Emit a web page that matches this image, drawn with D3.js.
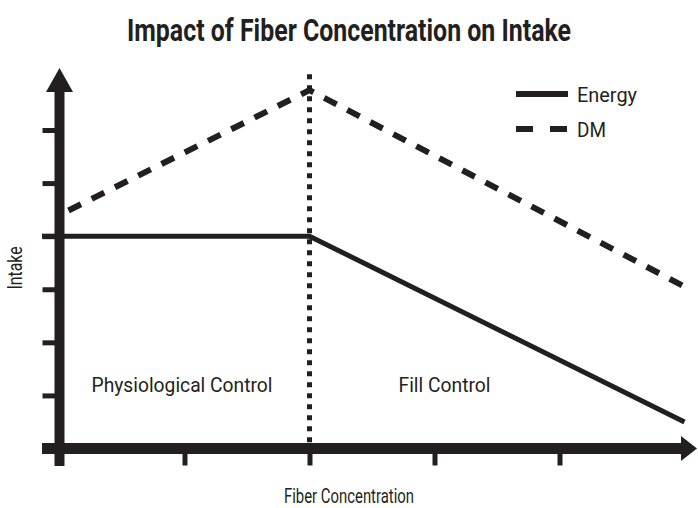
<!DOCTYPE html>
<html>
<head>
<meta charset="utf-8">
<script src="https://cdn.jsdelivr.net/npm/d3@7"></script>
<style>
  body { margin: 0; background: #fff; }
  svg { display: block; }
  text { font-family: Roboto, "Liberation Sans", sans-serif; fill: #231f20; }
</style>
</head>
<body>
<svg width="698" height="508"></svg>
<script>
const W = 698, H = 508;
const INK = '#231f20';

// data (arbitrary units)
const fiberX = [0, 2, 5];
const energy = [4, 4, 0.5];
const dm = [4.4, 6.75, 3.05];
const xTicks = [0, 1, 2, 3, 4];
const yTicks = [1, 2, 3, 4, 5, 6];
const dividerAt = 2, dividerTop = 7.05;
const regions = [{x: 0.98, label: 'Physiological Control'}, {x: 3.08, label: 'Fill Control'}];
const seriesNames = ['Energy', 'DM'];

const svg = d3.select('svg');

const x = d3.scaleLinear().domain([0, 5]).range([59.5, 684.5]);
const y = d3.scaleLinear().domain([0, 6]).range([448.5, 130]);

// condensed look: squeeze Roboto to the widths measured on the picture
function label(sel, size, width) {
    return sel.style('font-size', size + 'px')
        .attr('textLength', width)
        .attr('lengthAdjust', 'spacingAndGlyphs');
}

// Заголовок
label(svg.append('text')
    .attr('x', W / 2).attr('y', 41)
    .attr('text-anchor', 'middle')
    .style('font-weight', 'bold')
    .text('Impact of Fiber Concentration on Intake'), 32, 444);

// ticks via d3 axes, domain drawn separately as thick bars
const yAxis = svg.append('g')
    .attr('transform', `translate(${x(0)},0)`)
    .call(d3.axisLeft(y).tickValues(yTicks).tickSize(17).tickFormat(''));
yAxis.select('.domain').remove();
yAxis.selectAll('.tick line').attr('stroke', INK).attr('stroke-width', 5);

const xAxis = svg.append('g')
    .attr('transform', `translate(0,${y(0)})`)
    .call(d3.axisBottom(x).tickValues(xTicks).tickSize(17).tickFormat(''));
xAxis.select('.domain').remove();
xAxis.selectAll('.tick line').attr('stroke', INK).attr('stroke-width', 5);

// оси
const yTop = 68, xRight = 697;
svg.append('line')
    .attr('x1', x(0)).attr('x2', x(0))
    .attr('y1', 466).attr('y2', yTop + 24)
    .attr('stroke', INK).attr('stroke-width', 10);
svg.append('line')
    .attr('x1', 42).attr('x2', xRight - 15)
    .attr('y1', y(0)).attr('y2', y(0))
    .attr('stroke', INK).attr('stroke-width', 11);

// стрелки
svg.append('polygon')
    .attr('points', `${x(0)},${yTop} ${x(0) - 13.5},${yTop + 24} ${x(0) + 13.5},${yTop + 24}`)
    .attr('fill', INK);
svg.append('polygon')
    .attr('points', `${xRight},${y(0)} ${xRight - 16},${y(0) - 12.5} ${xRight - 16},${y(0) + 12.5}`)
    .attr('fill', INK);

// divider
svg.append('line')
    .attr('x1', x(dividerAt)).attr('x2', x(dividerAt))
    .attr('y1', y(dividerTop)).attr('y2', y(0))
    .attr('stroke', INK).attr('stroke-width', 5)
    .attr('stroke-dasharray', '5,6');

const line = d3.line().x(d => x(d[0])).y(d => y(d[1]));

svg.append('path')
    .attr('d', line(fiberX.map((v, i) => [v, energy[i]])))
    .attr('fill', 'none').attr('stroke', INK).attr('stroke-width', 5);

// energy line also pokes through the y axis like a tick
svg.append('line')
    .attr('x1', 42).attr('x2', x(0))
    .attr('y1', y(energy[0])).attr('y2', y(energy[0]))
    .attr('stroke', INK).attr('stroke-width', 5);

svg.append('path')
    .attr('d', line(fiberX.map((v, i) => [v, dm[i]])))
    .attr('fill', 'none').attr('stroke', INK).attr('stroke-width', 6)
    .attr('stroke-dasharray', '14,12').attr('stroke-dashoffset', -10);

// region labels
label(svg.append('text')
    .attr('x', x(regions[0].x)).attr('y', 392)
    .attr('text-anchor', 'middle')
    .text(regions[0].label), 21, 181);
label(svg.append('text')
    .attr('x', x(regions[1].x)).attr('y', 392)
    .attr('text-anchor', 'middle')
    .text(regions[1].label), 21, 92);

// axis titles
label(svg.append('text')
    .attr('x', 349).attr('y', 503)
    .attr('text-anchor', 'middle')
    .text('Fiber Concentration'), 21, 130);
label(svg.append('text')
    .attr('transform', 'translate(22,268) rotate(-90)')
    .attr('text-anchor', 'middle')
    .text('Intake'), 20, 43);

// legend
const legend = svg.append('g').attr('transform', 'translate(516,94)');
const legendW = [60, 29];
seriesNames.forEach((name, i) => {
    const g = legend.append('g').attr('transform', `translate(0,${i * 35})`);
    g.append('line')
        .attr('x1', 0).attr('x2', 52)
        .attr('stroke', INK).attr('stroke-width', 6)
        .attr('stroke-dasharray', i === 0 ? null : '17,17');
    label(g.append('text')
        .attr('x', 61).attr('y', 7.5)
        .text(name), 21, legendW[i]);
});
</script>
</body>
</html>
